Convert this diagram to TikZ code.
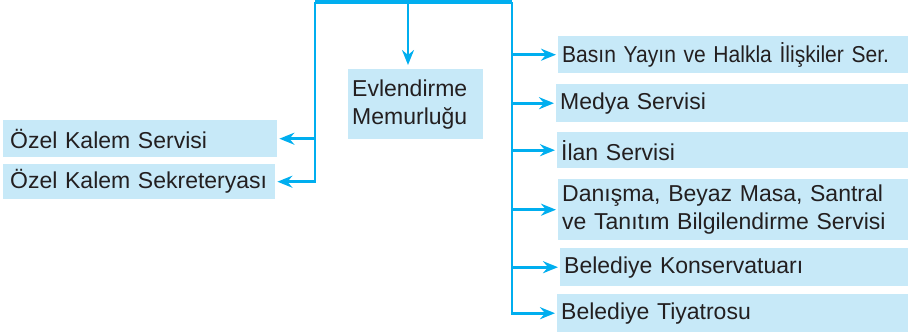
\documentclass[tikz,border=0pt]{standalone}
\usepackage{fontspec}
\setmainfont{Liberation Sans}
\newfontfamily\dar{Liberation Sans}[FakeStretch=0.915]
\usetikzlibrary{arrows.meta}
\definecolor{hat}{HTML}{00AEEF}
\definecolor{kutu}{HTML}{C7E9F8}
\definecolor{yazi}{HTML}{231F20}
\tikzset{>={Stealth[length=15pt, width=12pt, inset=5pt]}}

\begin{document}
\begin{tikzpicture}[x = 1pt, y = -1pt,
    birim/.style = {fill = kutu, text = yazi, anchor = north west, inner xsep = 4pt, inner ysep = 0pt,
        align = left, font = \fontsize{23}{28}\selectfont},
    bag/.style = {draw = hat, line width = 2.8pt},
    ok/.style = {bag, ->, shorten > = 2pt}]
    \useasboundingbox (0,0) rectangle (911,333);
    % birimler
    \node[birim, inner xsep = 7pt, text width = 260pt, minimum height = 37pt] (kalem) at (3,120) {Özel Kalem Servisi};
    \node[birim, inner xsep = 7pt, text width = 258pt, minimum height = 35pt] (sekreter) at (3,164) {Özel Kalem Sekreteryası};
    \node[birim, text width = 127pt, minimum height = 70pt] (evlen) at (348,69) {Evlendirme\\Memurluğu};
    \node[birim, text width = 342pt, minimum height = 37pt] (basin) at (558,36) {\dar Basın Yayın ve Halkla İlişkiler Ser.};
    \node[birim, text width = 344pt, minimum height = 38pt] (medya) at (556,84) {Medya Servisi};
    \node[birim, text width = 343pt, minimum height = 36pt] (ilan) at (557,132) {İlan Servisi};
    \node[birim, text width = 342pt, minimum height = 61pt] (danisma) at (558,179) {Danışma, Beyaz Masa, Santral\\ve Tanıtım Bilgilendirme Servisi};
    \node[birim, text width = 340pt, minimum height = 38pt] (konser) at (560,248) {Belediye Konservatuarı};
    \node[birim, text width = 343pt, minimum height = 38pt] (tiyatro) at (557,294) {Belediye Tiyatrosu};
    % baglantilar
    \coordinate (sol) at (315,2);
    \coordinate (sag) at (512,2);
    \coordinate (orta) at (408,2);
    \draw[bag, line width = 4pt] (sol) -- (sag);
    \draw[ok] (sol) |- (sekreter.east);
    \draw[ok] (sol |- kalem.east) -- (kalem.east);
    \draw[ok, shorten > = 4pt] (orta) -- (orta |- evlen.north);
    \draw[ok] (sag) |- (tiyatro.west);
    \foreach \b in {basin, medya, ilan, danisma, konser}
        \draw[ok] (sag |- \b.west) -- (\b.west);
\end{tikzpicture}
\end{document}
